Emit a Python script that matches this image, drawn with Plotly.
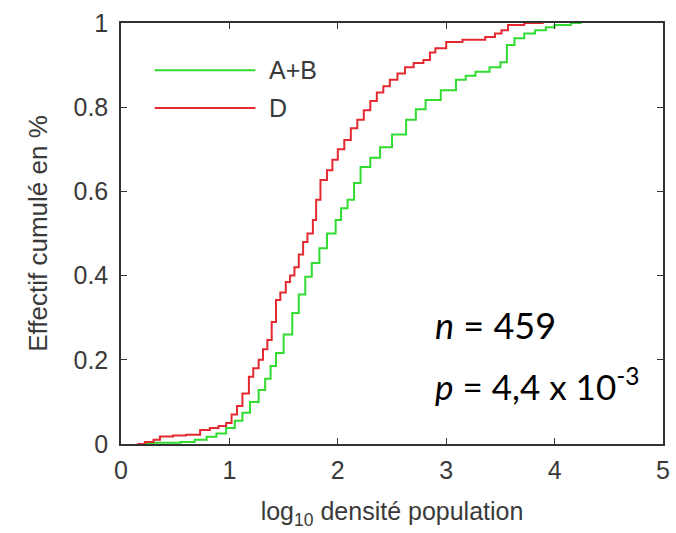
import plotly.graph_objects as go

# ECDF points (x = log10 density, y = cumulative fraction)
d_x = [0.15, 0.22, 0.30, 0.36, 0.48, 0.60, 0.73, 0.82, 0.90, 0.97, 1.02, 1.07, 1.12, 1.18,
       1.22, 1.27, 1.31, 1.35, 1.39, 1.43, 1.47, 1.52, 1.56, 1.60, 1.64, 1.68, 1.72, 1.77,
       1.80, 1.84, 1.90, 1.95, 2.00, 2.06, 2.12, 2.18, 2.24, 2.30, 2.36, 2.42, 2.48, 2.55,
       2.62, 2.70, 2.79, 2.85, 2.90, 3.00, 3.15, 3.36, 3.45, 3.51, 3.57, 3.72, 3.90]
d_y = [0.0, 0.005, 0.01, 0.018, 0.02, 0.022, 0.033, 0.038, 0.043, 0.05, 0.07, 0.09, 0.12, 0.16,
       0.18, 0.20, 0.225, 0.247, 0.29, 0.342, 0.36, 0.385, 0.40, 0.42, 0.45, 0.48, 0.50, 0.532,
       0.58, 0.627, 0.65, 0.675, 0.70, 0.722, 0.75, 0.77, 0.793, 0.815, 0.835, 0.85, 0.865, 0.88,
       0.895, 0.905, 0.912, 0.93, 0.94, 0.955, 0.96, 0.967, 0.975, 0.983, 0.995, 1.0, 1.0]

ab_x = [0.17, 0.30, 0.55, 0.68, 0.79, 0.88, 0.97, 1.05, 1.12, 1.19, 1.27, 1.33, 1.38, 1.43,
        1.50, 1.58, 1.64, 1.70, 1.76, 1.83, 1.90, 1.98, 2.03, 2.09, 2.15, 2.21, 2.30, 2.39,
        2.50, 2.63, 2.72, 2.81, 2.95, 3.09, 3.18, 3.27, 3.40, 3.50, 3.56, 3.63, 3.72, 3.82,
        3.92, 4.00, 4.15, 4.25]
ab_y = [0.0, 0.003, 0.005, 0.01, 0.017, 0.025, 0.038, 0.055, 0.074, 0.10, 0.128, 0.155, 0.185,
        0.216, 0.26, 0.311, 0.355, 0.397, 0.43, 0.465, 0.5, 0.532, 0.56, 0.58, 0.62, 0.658,
        0.68, 0.705, 0.735, 0.77, 0.795, 0.817, 0.84, 0.865, 0.875, 0.884, 0.895, 0.907, 0.948,
        0.964, 0.975, 0.983, 0.99, 0.995, 1.0, 1.0]

x_ticks = [0, 1, 2, 3, 4, 5]
y_ticks = [0, 0.2, 0.4, 0.6, 0.8, 1]
y_tick_labels = ["0", "0.2", "0.4", "0.6", "0.8", "1"]

series_names = ["A+B", "D"]
green = "#30dc30"
red = "#e42a30"
txt = "#3a3a3a"
font_fam = "Liberation Sans, Arial, sans-serif"
annot_fam = "Lato, Open Sans, sans-serif"

fig = go.Figure()
fig.add_trace(go.Scatter(x=ab_x, y=ab_y, mode="lines", line=dict(color=green, width=2, shape="hv"),
                         name=series_names[0], showlegend=False))
fig.add_trace(go.Scatter(x=d_x, y=d_y, mode="lines", line=dict(color=red, width=2, shape="hv"),
                         name=series_names[1], showlegend=False))

# Legend drawn as long line samples, like the reference
for yy, col, lab in [(0.888, green, series_names[0]), (0.798, red, series_names[1])]:
    fig.add_shape(type="line", xref="paper", yref="paper", x0=0.062, x1=0.248, y0=yy, y1=yy,
                  line=dict(color=col, width=2))
    fig.add_annotation(xref="paper", yref="paper", x=0.27, y=yy, text=lab, showarrow=False,
                       xanchor="left", yanchor="middle", font=dict(family=font_fam, size=25, color=txt))

fig.add_annotation(x=2.88, y=0.283, xref="x", yref="y", text="<i>n</i> = 459", showarrow=False,
                   xanchor="left", font=dict(family=annot_fam, size=36, color="black"))
fig.add_annotation(x=2.88, y=0.142, xref="x", yref="y", text="<i>p</i> = 4,4 x 10<sup>-3</sup>",
                   xanchor="left", showarrow=False, font=dict(family=annot_fam, size=35, color="black"))

axis_common = dict(showline=True, mirror="ticks", linecolor="#333333", linewidth=1.5,
                   ticks="inside", ticklen=6, tickcolor="#333333", showgrid=False, zeroline=False,
                   tickfont=dict(family=font_fam, size=25, color=txt))

fig.update_xaxes(range=[0, 5], tickvals=x_ticks, ticklabelstandoff=3,
                 title=dict(text="log<sub>10</sub> densité population",
                            font=dict(family=font_fam, size=25, color=txt), standoff=20),
                 **axis_common)
fig.update_yaxes(range=[0, 1], tickvals=y_ticks, ticktext=y_tick_labels, ticklabelstandoff=6,
                 title=dict(text="Effectif cumulé en %",
                            font=dict(family=font_fam, size=26, color=txt), standoff=18),
                 **axis_common)

fig.update_layout(width=676, height=533, margin=dict(l=121, r=6, t=23, b=89),
                  paper_bgcolor="white", plot_bgcolor="white", showlegend=False)

fig.write_html("out.html")
